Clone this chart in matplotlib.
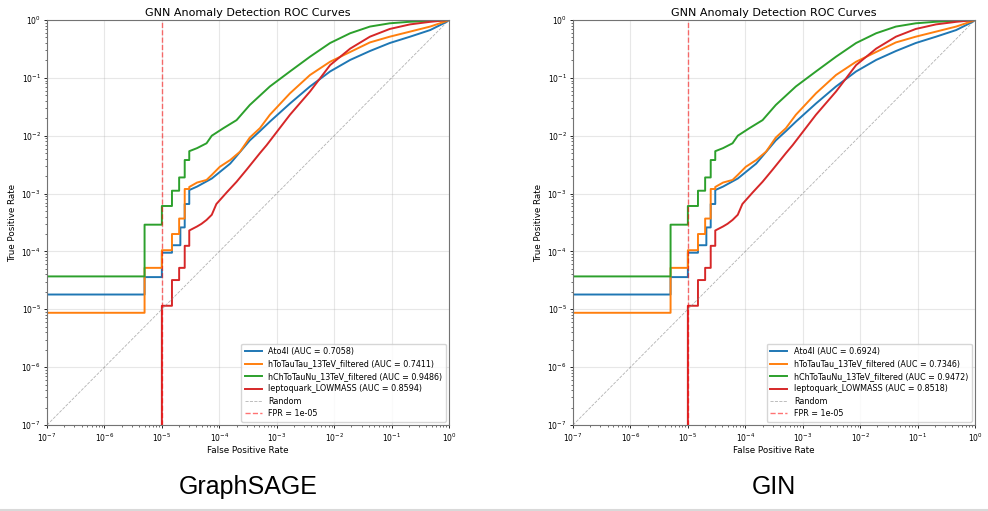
import matplotlib.pyplot as plt
import numpy as np
from matplotlib.lines import Line2D

signals = ["Ato4l", "hToTauTau_13TeV_filtered", "hChToTauNu_13TeV_filtered", "leptoquark_LOWMASS"]
colors = ["tab:blue", "tab:orange", "tab:green", "tab:red"]
models = ["GraphSAGE", "GIN"]
auc_graphsage = [0.7058, 0.7411, 0.9486, 0.8594]
auc_gin = [0.6924, 0.7346, 0.9472, 0.8518]
fpr_cut = 1e-05

# ROC points (same shape for both models)
# first n_steps points are plotted as a staircase, the rest as a line
ato4l_fpr = [1e-7, 5e-6, 1e-5, 1.5e-5, 2.1e-5, 2.5e-5, 3e-5, 4.1e-5, 7.4e-5, 1.55e-4, 3.4e-4,
             5.1e-4, 7.6e-4, 1.7e-3, 3.8e-3, 8.5e-3, 1.9e-2, 4.2e-2, 9.3e-2, 0.21, 0.47, 0.91, 1.0]
ato4l_tpr = [1.8e-5, 3.6e-5, 9.5e-5, 1.28e-4, 2.6e-4, 6.6e-4, 1.15e-3, 1.32e-3, 1.82e-3, 3.3e-3, 8.3e-3,
             1.2e-2, 1.75e-2, 3.6e-2, 7.1e-2, 0.129, 0.204, 0.291, 0.40, 0.515, 0.67, 0.93, 1.0]
ato4l_steps = 6

htt_fpr = [1e-7, 5e-6, 1e-5, 1.5e-5, 2e-5, 2.5e-5, 3e-5, 4.1e-5, 6e-5, 7.4e-5, 1.02e-4, 1.55e-4, 2.3e-4,
           3.4e-4, 5.1e-4, 7.6e-4, 1.7e-3, 3.8e-3, 8.5e-3, 1.9e-2, 4.2e-2, 9.3e-2, 0.21, 0.47, 0.91, 1.0]
htt_tpr = [8.7e-6, 5.2e-5, 1.05e-4, 2.0e-4, 3.7e-4, 1.2e-3, 1.3e-3, 1.55e-3, 1.72e-3, 2.1e-3, 2.9e-3, 3.8e-3, 5.3e-3,
           9.3e-3, 1.35e-2, 2.3e-2, 5.4e-2, 0.112, 0.19, 0.28, 0.41, 0.515, 0.63, 0.77, 0.96, 1.0]
htt_steps = 6

hch_fpr = [1e-7, 5e-6, 1e-5, 1.5e-5, 2e-5, 2.5e-5, 3e-5, 4.1e-5, 6e-5, 7.4e-5, 1.18e-4, 2.0e-4, 3.4e-4,
           7.6e-4, 1.7e-3, 3.8e-3, 8.5e-3, 1.9e-2, 4.2e-2, 9.3e-2, 0.21, 0.47, 1.0]
hch_tpr = [3.7e-5, 2.9e-4, 6.1e-4, 1.12e-3, 1.9e-3, 3.8e-3, 5.4e-3, 6.1e-3, 7.4e-3, 1.0e-2, 1.35e-2, 1.86e-2, 3.4e-2,
           7.1e-2, 0.129, 0.232, 0.40, 0.59, 0.77, 0.877, 0.933, 0.96, 1.0]
hch_steps = 6

lq_fpr = [1e-5, 1e-5, 1.5e-5, 2e-5, 2.5e-5, 3e-5, 4.1e-5, 4.9e-5, 6e-5, 7.4e-5, 8.9e-5, 1.35e-4, 2.0e-4,
          3.0e-4, 5.1e-4, 6.7e-4, 1.7e-3, 3.8e-3, 8.5e-3, 1.9e-2, 4.2e-2, 9.3e-2, 0.21, 0.47, 1.0]
lq_tpr = [1e-8, 1.15e-5, 3.2e-5, 5.2e-5, 1.25e-4, 2.3e-4, 2.7e-4, 3.0e-4, 3.5e-4, 4.3e-4, 6.6e-4, 1.05e-3, 1.6e-3,
          2.6e-3, 5.0e-3, 6.9e-3, 2.3e-2, 5.8e-2, 0.166, 0.32, 0.515, 0.70, 0.84, 0.93, 1.0]
lq_steps = 5

curves = [(ato4l_fpr, ato4l_tpr, ato4l_steps), (htt_fpr, htt_tpr, htt_steps),
          (hch_fpr, hch_tpr, hch_steps), (lq_fpr, lq_tpr, lq_steps)]
lim = [1e-7, 1.0]


def roc_path(fpr, tpr, n_steps):
    xs, ys = [], []
    for i in range(n_steps):
        xs += [fpr[i], fpr[i + 1]]
        ys += [tpr[i], tpr[i]]
    xs += fpr[n_steps:]
    ys += tpr[n_steps:]
    return xs, ys


fig = plt.figure(figsize=(9.88, 5.11), dpi=100)
lefts = [47 / 988, 573 / 988]

for left, model, aucs in zip(lefts, models, [auc_graphsage, auc_gin]):
    ax = fig.add_axes([left, 86 / 511, 402 / 988, 405 / 511])
    for (fpr, tpr, n), name, c, auc in zip(curves, signals, colors, aucs):
        xs, ys = roc_path(fpr, tpr, n)
        ax.plot(xs, ys, color=c, lw=1.4, label=f"{name} (AUC = {auc:.4f})")
    ax.plot(lim, lim, color="gray", ls="--", lw=0.6, alpha=0.6, label="Random")
    ax.axvline(fpr_cut, color="red", ls="--", lw=1.0, alpha=0.55, label=f"FPR = {fpr_cut}")
    ax.set_xscale("log")
    ax.set_yscale("log")
    ax.set_xlim(lim)
    ax.set_ylim(lim)
    ax.grid(True, which="major", alpha=0.3)
    ax.tick_params(labelsize=5.5, length=2.5, width=0.6, pad=2)
    ax.tick_params(which="minor", length=1.5, width=0.4)
    for s in ax.spines.values():
        s.set_color("0.45")
    ax.set_xlabel("False Positive Rate", fontsize=6.3, labelpad=2)
    ax.set_ylabel("True Positive Rate", fontsize=6.3, labelpad=3)
    ax.set_title("GNN Anomaly Detection ROC Curves", fontsize=8, pad=3)
    ax.legend(loc="lower right", fontsize=5.8, handlelength=2.1, labelspacing=0.42,
              borderpad=0.45, framealpha=0.8, borderaxespad=0.4)
    cx = (left + 201 / 988)
    fig.text(cx, 1 - 487 / 511, model, ha="center", va="center", fontsize=18,
             family="Liberation Sans")

fig.add_artist(Line2D([0, 1], [1 - 509.5 / 511] * 2, color="0.85", lw=1.5))
fig.savefig("out.png", dpi=100)
